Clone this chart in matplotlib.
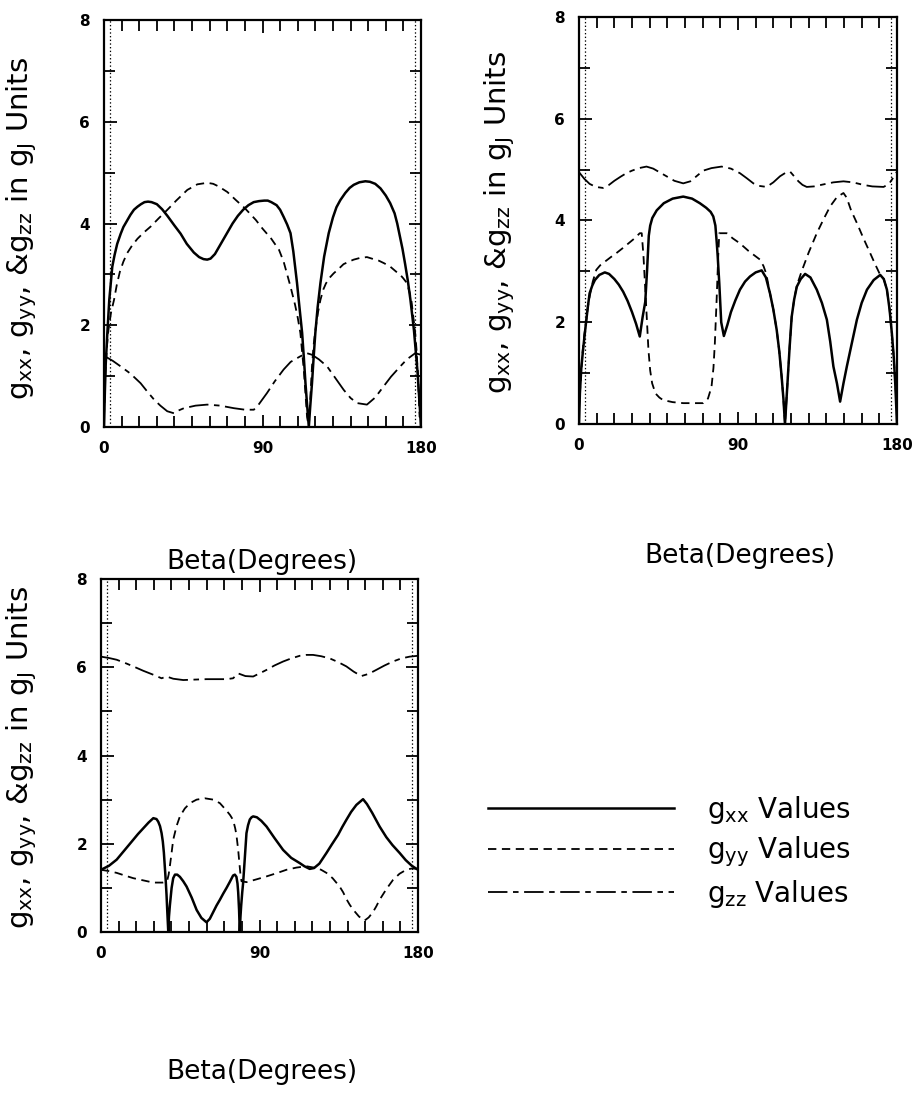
import numpy as np
import matplotlib.pyplot as plt
from matplotlib.lines import Line2D

plt.rcParams['lines.scale_dashes'] = False

# ---- panel A (top left) ----
a_xx_beta = [0, 0.5, 1, 1.9, 3, 4.7, 6, 7.5, 9.5, 11, 13, 15, 17, 19, 21, 23, 25, 27, 30, 33, 36, 40,
             43.5, 47, 51, 54, 56.5, 58.6, 60.5, 63, 66, 70, 73, 76, 79, 82, 85, 88, 91, 93, 95, 98,
             100, 102, 104, 105.9, 107.5, 109.6, 111, 112.5, 113.5, 114.4, 115.4, 116.3, 117.1, 118.1,
             119, 120, 121.3, 122.9, 125, 127.6, 130, 132, 134.2, 137, 139.5, 141.8, 145, 148.4, 151,
             154, 157, 160, 162.5, 165, 166.5, 168, 169.5, 171, 172.5, 174, 175, 176, 177, 178, 179.3, 180]
a_xx = [0, 0.7, 1.25, 1.85, 2.5, 3.15, 3.38, 3.6, 3.8, 3.93, 4.05, 4.17, 4.27, 4.33, 4.38, 4.42, 4.43,
        4.42, 4.38, 4.28, 4.15, 3.96, 3.8, 3.6, 3.43, 3.34, 3.3, 3.29, 3.31, 3.4, 3.58, 3.82, 4.0, 4.15,
        4.27, 4.36, 4.42, 4.44, 4.45, 4.45, 4.42, 4.36, 4.27, 4.13, 3.98, 3.81, 3.45, 2.83, 2.35, 1.85,
        1.35, 0.86, 0.4, 0, 0.4, 0.86, 1.35, 1.85, 2.35, 2.83, 3.35, 3.81, 4.12, 4.32, 4.46, 4.6, 4.7,
        4.76, 4.81, 4.83, 4.82, 4.78, 4.69, 4.55, 4.4, 4.2, 4.0, 3.75, 3.5, 3.2, 2.88, 2.5, 2.2, 1.9,
        1.5, 1.1, 0.4, 0]
a_yy_beta = [0, 0.5, 1, 1.7, 2.5, 4, 5.7, 7.3, 9, 11, 13.2, 16, 19, 22.5, 26.5, 31, 36, 41, 47.3, 53,
             58.6, 62, 65, 70, 74.9, 80, 86.2, 90, 95, 99.4, 102, 104, 105.9, 108.5, 110, 111.5, 113.5,
             115.3, 116.3, 117.2, 118.1, 119, 120, 121.5, 122.9, 124.5, 126, 128, 130.4, 133, 136, 139,
             141.8, 145, 149.3, 153, 156, 159, 162.6, 166, 168, 170, 172, 173.5, 174.5, 175.5, 176.7,
             177.5, 178.3, 179.2, 180]
a_yy = [0.2, 0.8, 1.2, 1.6, 1.9, 2.25, 2.5, 2.8, 3.05, 3.25, 3.42, 3.57, 3.7, 3.82, 3.94, 4.1, 4.27,
        4.45, 4.66, 4.77, 4.8, 4.78, 4.73, 4.62, 4.46, 4.3, 4.07, 3.9, 3.7, 3.48, 3.25, 3.0, 2.76, 2.4,
        2.15, 1.85, 1.1, 0.2, 0, 0.6, 1.19, 1.6, 1.9, 2.25, 2.5, 2.7, 2.82, 2.93, 3.02, 3.1, 3.2, 3.25,
        3.29, 3.32, 3.34, 3.3, 3.27, 3.22, 3.15, 3.05, 3.0, 2.92, 2.83, 2.65, 2.5, 2.2, 1.85, 1.5, 1.0,
        0.2, 0.2]
a_zz_beta = [0, 5, 9.5, 15, 20.8, 24.5, 28.4, 32, 35.9, 39.7, 42, 45.4, 52, 58.6, 66, 73.7, 80, 85.1,
             88, 92.6, 97, 102, 106, 111.5, 115.3, 118.1, 122, 126.7, 131, 136.1, 140, 143.7, 149.3,
             154, 158.8, 163, 168.2, 172, 176.7, 180]
a_zz = [1.4, 1.3, 1.19, 1.05, 0.86, 0.7, 0.54, 0.42, 0.31, 0.27, 0.32, 0.37, 0.42, 0.44, 0.42, 0.37,
        0.34, 0.34, 0.45, 0.67, 0.9, 1.13, 1.28, 1.39, 1.45, 1.42, 1.33, 1.19, 0.98, 0.73, 0.57, 0.47,
        0.44, 0.58, 0.8, 0.99, 1.19, 1.33, 1.45, 1.42]

# ---- panel B (top right) ----
b_xx_beta = [0, 0.5, 1.3, 2.3, 3.2, 4, 5, 6, 7.5, 9, 11.5, 14.6, 17, 20, 22.5, 25, 27.5, 30, 32.3,
             34.4, 36, 37.5, 38.5, 39.5, 40.3, 41.5, 44, 48, 53, 59, 64, 68.4, 72, 74.5, 76, 77.2, 78,
             78.5, 79.4, 80.5, 82, 84, 86, 88.5, 91.1, 94, 96.8, 100, 103.4, 105.8, 108.1, 110, 111.9,
             113.4, 114.7, 115.7, 116.6, 117.3, 118, 119.2, 120.4, 121.8, 123.3, 125.5, 128, 131, 134.6,
             137.5, 140.3, 142.2, 144, 146, 147.8, 149.7, 151.6, 154.5, 157.3, 160, 163, 166.8, 170.5,
             172.5, 174.3, 175.8, 177.1, 178.2, 179, 180]
b_xx = [0, 0.6, 1.1, 1.46, 1.75, 2.0, 2.3, 2.57, 2.72, 2.83, 2.93, 2.98, 2.95, 2.85, 2.74, 2.6, 2.42,
        2.2, 1.97, 1.72, 2.1, 2.4, 3.0, 3.7, 3.9, 4.05, 4.2, 4.34, 4.43, 4.47, 4.43, 4.34, 4.25, 4.17,
        4.08, 3.9, 3.55, 3.3, 2.77, 2.0, 1.73, 1.95, 2.2, 2.43, 2.64, 2.8, 2.9, 2.98, 3.02, 2.88, 2.57,
        2.25, 1.85, 1.42, 0.93, 0.5, 0, 0.4, 0.8, 1.5, 2.11, 2.45, 2.7, 2.85, 2.95, 2.88, 2.64, 2.38,
        2.05, 1.62, 1.13, 0.8, 0.44, 0.8, 1.13, 1.6, 2.05, 2.38, 2.64, 2.83, 2.93, 2.85, 2.64, 2.25,
        1.78, 1.3, 0.8, 0]
b_yy_beta = [0, 1, 2, 3, 4, 5, 6, 7.8, 9.8, 12, 15, 18, 21.2, 24.5, 28, 31.5, 34.4, 35.5, 36.5, 37.9,
             39.3, 40.3, 41.4, 43.3, 45.5, 47.6, 53, 59, 65, 70.3, 73, 75, 76.1, 76.9, 77.9, 78.8, 79.4,
             83.6, 87, 91.1, 96, 102.5, 104.5, 106, 108.1, 110, 111.9, 113.4, 114.7, 115.7, 116.6, 117.3,
             118, 119.2, 120.4, 121.8, 123.3, 126, 130, 134.6, 138.5, 142.2, 146, 149.7, 151.5, 154,
             157.3, 161, 164.8, 167.5, 170.5, 172.5, 174.3, 175.8, 177.1, 178.2, 179, 180]
b_yy = [0.3, 0.9, 1.4, 1.75, 2.0, 2.3, 2.5, 2.8, 3.03, 3.12, 3.2, 3.28, 3.36, 3.45, 3.55, 3.65, 3.75,
        3.75, 3.3, 2.4, 1.46, 1.05, 0.8, 0.6, 0.52, 0.47, 0.43, 0.41, 0.41, 0.41, 0.5, 0.73, 1.1, 1.59,
        2.44, 3.3, 3.75, 3.75, 3.65, 3.55, 3.4, 3.23, 3.1, 2.95, 2.57, 2.25, 1.85, 1.42, 0.93, 0.5, 0,
        0.4, 0.8, 1.5, 2.11, 2.45, 2.72, 3.0, 3.37, 3.75, 4.03, 4.28, 4.46, 4.54, 4.45, 4.2, 3.95, 3.65,
        3.36, 3.15, 2.93, 2.85, 2.64, 2.25, 1.78, 1.3, 0.8, 0.3]
b_zz_beta = [0, 3, 6, 9.5, 13.6, 17, 20, 23.5, 26.8, 30, 34, 38.2, 42, 45.5, 49.5, 54, 59, 63, 66.5,
             70.3, 75, 80.7, 86, 91.1, 95, 98.7, 102, 106.2, 110, 113.8, 117, 119.5, 121.5, 124.2, 126.5,
             128.9, 133, 138.4, 144, 149.7, 155, 161, 166, 172.4, 175.5, 178, 180]
b_zz = [4.95, 4.82, 4.72, 4.66, 4.64, 4.7, 4.78, 4.86, 4.93, 4.98, 5.03, 5.06, 5.02, 4.95, 4.87, 4.78,
        4.73, 4.77, 4.87, 4.98, 5.03, 5.06, 5.02, 4.93, 4.83, 4.73, 4.68, 4.66, 4.75, 4.87, 4.94, 4.96,
        4.88, 4.77, 4.7, 4.66, 4.67, 4.71, 4.75, 4.77, 4.75, 4.7, 4.67, 4.66, 4.72, 4.85, 4.96]

# ---- panel C (bottom left) ----
c_xx_beta = [0, 4.5, 8.9, 13.5, 18.3, 21, 24, 27, 29.7, 31.5, 32.5, 33.5, 34.4, 35.1, 35.7, 36.2,
             36.7, 37.2, 37.6, 38.2, 38.6, 39.1, 40.1, 41, 42, 43.3, 44.8, 46.7, 48.6, 51.5, 54.3, 57,
             59.9, 61.8, 63.7, 65.6, 67.5, 69.4, 71.3, 73.2, 75, 76, 76.9, 77.5, 77.9, 78.4, 78.8, 79.2,
             79.6, 80.2, 80.7, 81.2, 81.7, 82.2, 82.6, 83.5, 84.5, 85.5, 86.4, 88.5, 91, 94, 98.5, 103.4,
             108, 112.9, 115.5, 118.5, 121, 124, 128, 131, 134.6, 137, 139.3, 142, 145, 148.8, 151, 154,
             158.2, 162, 165.5, 169.6, 173, 176.5, 180]
c_xx = [1.41, 1.5, 1.64, 1.86, 2.09, 2.22, 2.35, 2.48, 2.58, 2.56, 2.5, 2.4, 2.24, 2.05, 1.8, 1.5,
        1.2, 0.85, 0.5, 0, 0.35, 0.6, 1.0, 1.22, 1.3, 1.3, 1.25, 1.15, 1.03, 0.78, 0.5, 0.32, 0.22,
        0.3, 0.45, 0.6, 0.73, 0.87, 1.0, 1.14, 1.28, 1.3, 1.25, 1.1, 0.9, 0.5, 0, 0.35, 0.6, 0.9, 1.11,
        1.4, 1.7, 2.0, 2.24, 2.42, 2.55, 2.6, 2.62, 2.6, 2.52, 2.39, 2.13, 1.86, 1.68, 1.56, 1.49, 1.43,
        1.45, 1.55, 1.79, 1.98, 2.2, 2.38, 2.54, 2.72, 2.88, 3.01, 2.9, 2.7, 2.39, 2.15, 1.97, 1.79,
        1.63, 1.5, 1.41]
c_yy_beta = [0, 4.5, 8.9, 13.5, 18.3, 24, 29.7, 35, 37.5, 38.4, 39.1, 40.1, 41, 42.9, 44.8, 47.6,
             50.5, 54.3, 59, 63.7, 67.5, 71.3, 73.3, 75, 76.2, 76.9, 77.9, 78.6, 79.2, 79.8, 82.6, 88,
             94, 99.5, 105.3, 111, 116.6, 122.3, 125, 128, 131.5, 135.5, 137.5, 139.3, 141.2, 143.1,
             146.5, 149.7, 152, 154.4, 156.3, 158.2, 162, 165.8, 169.5, 173.3, 176.5, 180]
c_yy = [1.41, 1.38, 1.34, 1.28, 1.22, 1.17, 1.12, 1.12, 1.15, 1.3, 1.49, 1.8, 2.09, 2.4, 2.62, 2.8,
        2.92, 3.0, 3.03, 3.0, 2.92, 2.75, 2.65, 2.54, 2.35, 2.2, 1.86, 1.55, 1.3, 1.15, 1.13, 1.19,
        1.26, 1.33, 1.41, 1.46, 1.49, 1.45, 1.41, 1.34, 1.22, 1.03, 0.9, 0.75, 0.62, 0.51, 0.35, 0.26,
        0.33, 0.45, 0.58, 0.73, 0.97, 1.18, 1.32, 1.41, 1.44, 1.43]
c_zz_beta = [0, 4.5, 8.9, 13.5, 18.3, 24, 29.7, 34.4, 37.2, 41, 46.7, 53, 59.9, 65.5, 71.3, 75, 77.9,
             82, 86.4, 90, 94, 98.5, 103.4, 108, 112.9, 116.5, 120.4, 125, 129.9, 134.5, 139.3, 143.5,
             147.8, 152, 156.3, 161, 165.8, 170.5, 175.2, 180]
c_zz = [6.24, 6.21, 6.17, 6.1, 6.02, 5.92, 5.83, 5.75, 5.79, 5.74, 5.71, 5.72, 5.73, 5.73, 5.73, 5.75,
        5.86, 5.8, 5.79, 5.86, 5.94, 6.04, 6.13, 6.2, 6.26, 6.28, 6.28, 6.25, 6.2, 6.12, 6.02, 5.9, 5.8,
        5.85, 5.94, 6.04, 6.13, 6.2, 6.24, 6.26]

x_ticks = [0, 90, 180]
y_ticks = [0, 2, 4, 6, 8]
legend_labels = [r'$\mathregular{g_{xx}}$ Values', r'$\mathregular{g_{yy}}$ Values',
                 r'$\mathregular{g_{zz}}$ Values']
ylabel = (r'$\mathregular{g_{xx}}$, $\mathregular{g_{yy}}$, &$\mathregular{g_{zz}}$'
          r' in $\mathregular{g_J}$ Units')
xlabel = 'Beta(Degrees)'

solid = dict(color='black', lw=1.8, ls='-')
dash = dict(color='black', lw=1.3, dashes=(6, 4))
longdash = dict(color='black', lw=1.3, dashes=(14, 4, 4, 4))

fig = plt.figure(figsize=(9.13, 11.04), dpi=100)


def panel(rect, xx, yy, zz):
    ax = fig.add_axes(rect)
    ax.plot(xx[0], xx[1], **solid)
    ax.plot(yy[0], yy[1], **dash)
    ax.plot(zz[0], zz[1], **longdash)
    ax.set_xlim(0, 180)
    ax.set_ylim(0, 8)
    ax.set_xticks(x_ticks)
    ax.set_yticks(y_ticks)
    ax.set_xticks(np.arange(0, 181, 10), minor=True)
    ax.set_yticks(np.arange(0, 9, 1), minor=True)
    ax.tick_params(which='both', direction='in', top=True, right=True, width=1.3)
    ax.tick_params(which='major', length=9, labelsize=11, pad=10)
    ax.tick_params(which='minor', length=8)
    for lab in ax.get_xticklabels() + ax.get_yticklabels():
        lab.set_fontweight('bold')
    for s in ax.spines.values():
        s.set_linewidth(1.6)
    # dotted inner frame lines seen in the original
    ax.axvline(3.5, color='black', lw=0.9, ls=':')
    ax.axvline(176.5, color='black', lw=0.9, ls=':')
    return ax


axA = panel([104 / 913, 1 - 427 / 1104, 317 / 913, 407 / 1104],
            (a_xx_beta, a_xx), (a_yy_beta, a_yy), (a_zz_beta, a_zz))
axB = panel([579 / 913, 1 - 424 / 1104, 318 / 913, 407 / 1104],
            (b_xx_beta, b_xx), (b_yy_beta, b_yy), (b_zz_beta, b_zz))
axC = panel([101 / 913, 1 - 932 / 1104, 317 / 913, 353 / 1104],
            (c_xx_beta, c_xx), (c_yy_beta, c_yy), (c_zz_beta, c_zz))

# axis titles
for (x, y) in [(22 / 913, 1 - 228 / 1104), (500 / 913, 1 - 222 / 1104), (22 / 913, 1 - 757 / 1104)]:
    fig.text(x, y, ylabel, rotation=90, ha='center', va='center', fontsize=21)
for (x, y) in [(262 / 913, 1 - 562 / 1104), (740 / 913, 1 - 556 / 1104), (262 / 913, 1 - 1072 / 1104)]:
    fig.text(x, y, xlabel, ha='center', va='center', fontsize=19)

handles = [Line2D([], [], **solid), Line2D([], [], **dash), Line2D([], [], **longdash)]
fig.legend(handles, legend_labels, loc='center left', bbox_to_anchor=(463 / 913, 1 - 852 / 1104),
           frameon=False, fontsize=20, handlelength=6.7, handletextpad=1.2, labelspacing=0.32)

fig.savefig('out.png', dpi=100)
